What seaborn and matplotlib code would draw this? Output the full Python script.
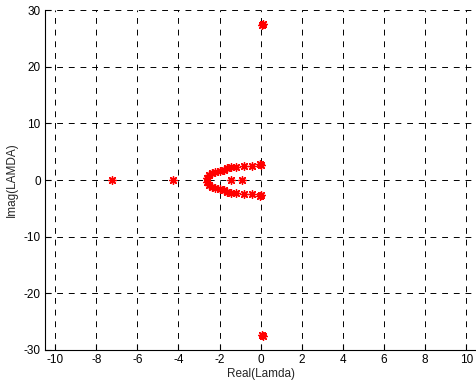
import matplotlib
matplotlib.use("Agg")
import matplotlib.pyplot as plt
import numpy as np
import pandas as pd
import seaborn as sns

# eigenvalues (upper half; lower half is the conjugate)
branch_re = [-2.62, -2.49, -2.36, -2.23, -2.00, -1.79, -1.63, -1.46, -1.22,
             -0.81, -0.43, -0.05, 0.02]
branch_im = [0.30, 0.88, 1.18, 1.35, 1.59, 1.76, 2.06, 2.24, 2.35,
             2.53, 2.53, 2.76, 2.60]
real_re = [-7.24, -4.27, -1.46, -0.89]
far_re = [0.07, 0.10]
far_im = [27.3, 27.5]

re_vals = (branch_re + branch_re + real_re + far_re + far_re)
im_vals = (branch_im + [-v for v in branch_im] + [0.0] * len(real_re)
           + far_im + [-v for v in far_im])
df = pd.DataFrame({"re": re_vals, "im": im_vals})

sns.set_theme(style="white")
plt.rcParams["font.family"] = ["Liberation Sans", "DejaVu Sans"]
plt.rcParams["axes.unicode_minus"] = False

fig = plt.figure(figsize=(4.77, 3.88), dpi=100)
ax = fig.add_axes([0.094, 0.098, 0.905, 0.876])

# MATLAB-style '*' marker: eight-spoke asterisk
sns.scatterplot(data=df, x="re", y="im", marker=(8, 2, 0), s=30,
                color="red", edgecolor="red", linewidth=1.0, ax=ax, zorder=3)

ax.set_xlim(-10.5, 10.5)
ax.set_ylim(-30, 30)
ax.set_xticks(np.arange(-10, 11, 2))
ax.set_yticks(np.arange(-30, 31, 10))
ax.grid(True, color="black", linestyle=(0, (6, 6)), linewidth=0.7)
for side in ("top", "right"):
    ax.spines[side].set_visible(False)
for side in ("left", "bottom"):
    ax.spines[side].set_color("black")
    ax.spines[side].set_linewidth(0.8)
ax.tick_params(direction="in", length=4, width=0.8, labelsize=8.5,
               colors="black", left=True, bottom=True, pad=3)
ax.set_xlabel("Real(Lamda)", fontsize=8.5, labelpad=1)
ax.set_ylabel("Imag(LAMDA)", fontsize=8.5, labelpad=4)

fig.savefig("out.png", dpi=100)
